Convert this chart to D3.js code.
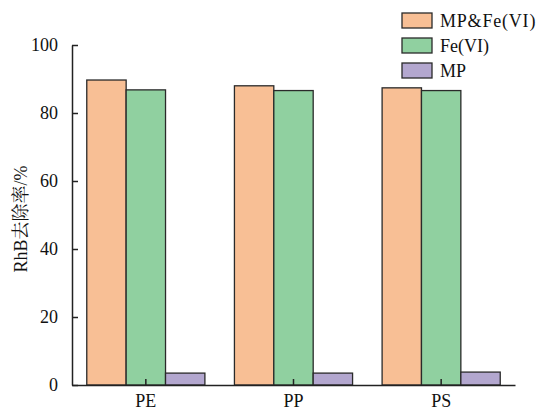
<!DOCTYPE html>
<html><head><meta charset="utf-8">
<script src="https://cdn.jsdelivr.net/npm/d3@7"></script>
<style>body{margin:0;background:#fff}svg{display:block}</style>
</head><body>
<div id="chart"></div>
<script>
const categories = ["PE", "PP", "PS"];
const seriesNames = ["MP&Fe(VI)", "Fe(VI)", "MP"];
const mpFe = [89.7, 88.0, 87.4];
const fe = [86.8, 86.6, 86.6];
const mp = [3.5, 3.5, 3.8];
const yTicks = [0, 20, 40, 60, 80, 100];
const colors = ["#f8bf95", "#90d0a0", "#b3a7cf"];
const seriesValues = [mpFe, fe, mp];

const W = 550, H = 410;
const m = {left: 72, right: 35, top: 45, bottom: 25};
const svg = d3.select("#chart").append("svg").attr("width", W).attr("height", H);
const font = "'Liberation Serif','Times New Roman',serif";

const x = d3.scaleBand().domain(categories).range([m.left, W - m.right]).paddingInner(0.2).paddingOuter(0.1);
const xs = d3.scaleBand().domain(seriesNames).range([0, x.bandwidth()]);
const y = d3.scaleLinear().domain([0, 100]).range([H - m.bottom, m.top]);

const g = svg.append("g");
categories.forEach((c, i) => {
  seriesNames.forEach((s, j) => {
    g.append("rect")
      .attr("x", x(c) + xs(s))
      .attr("y", y(seriesValues[j][i]))
      .attr("width", xs.bandwidth())
      .attr("height", y(0) - y(seriesValues[j][i]))
      .attr("fill", colors[j])
      .attr("stroke", "#2a2a2a")
      .attr("stroke-width", 1.3);
  });
});

const yAxis = svg.append("g").attr("transform", `translate(${m.left},0)`)
  .call(d3.axisLeft(y).tickValues(yTicks).tickSizeInner(-6).tickSizeOuter(0).tickPadding(14));
const xAxis = svg.append("g").attr("transform", `translate(0,${y(0)})`)
  .call(d3.axisBottom(x).tickSizeInner(-6).tickSizeOuter(0));
[yAxis, xAxis].forEach(a => {
  a.selectAll("path,line").attr("stroke", "#222").attr("stroke-width", 1.5);
  a.selectAll("text").attr("font-family", font).attr("font-size", 18).attr("fill", "#111");
});
xAxis.selectAll("text").attr("y", 22).attr("dy", 0);

svg.append("text")
  .attr("transform", `translate(27,219) rotate(-90)`)
  .attr("text-anchor", "middle")
  .attr("font-family", "'Liberation Serif','Noto Serif CJK SC','Noto Sans CJK SC',serif")
  .attr("font-size", 18).attr("fill", "#111")
  .text("RhB去除率/%");

const lg = svg.append("g");
seriesNames.forEach((s, j) => {
  const yy = 13 + j * 25;
  lg.append("rect").attr("x", 402).attr("y", yy).attr("width", 30).attr("height", 15)
    .attr("fill", colors[j]).attr("stroke", "#2a2a2a").attr("stroke-width", 1.3);
  lg.append("text").attr("x", 440).attr("y", yy + 8).attr("dy", "0.35em")
    .attr("font-family", font).attr("font-size", 18).attr("letter-spacing", j === 0 ? 0.8 : 0)
    .attr("fill", "#111")
    .text(s);
});
</script>
</body></html>
